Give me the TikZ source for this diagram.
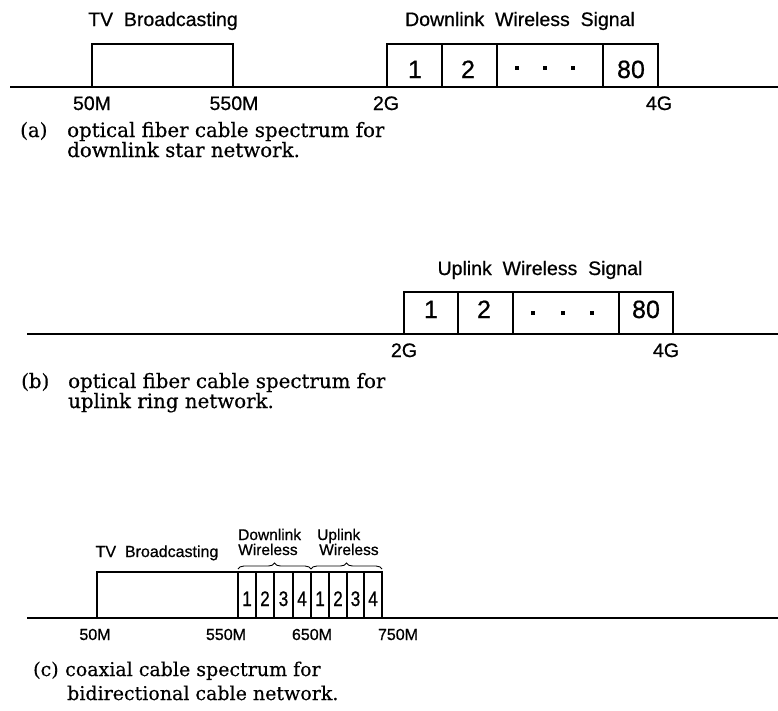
\documentclass[tikz,border=0pt]{standalone}
\usepackage{fontspec}
\usetikzlibrary{decorations.pathreplacing}
\newfontfamily\labfont[FakeBold=0.7]{Liberation Sans}
\newfontfamily\capfont[FakeBold=0.4]{DejaVu Serif}
\tikzset{
  axisline/.style={line width=1.5pt},
  band/.style={draw, line width=1.1pt},
  lblA/.style={font=\labfont\fontsize{19.5}{22}\selectfont, anchor=base, inner sep=0pt},
  lblC/.style={font=\labfont\fontsize{16}{18}\selectfont, anchor=base, inner sep=0pt},
  digA/.style={font=\labfont\fontsize{25}{28}\selectfont, anchor=base, inner sep=0pt},
  digC/.style={font=\labfont\fontsize{21}{24}\selectfont, anchor=base, inner sep=0pt},
  brlbl/.style={font=\labfont\fontsize{15.5}{16}\selectfont, anchor=base west, inner sep=0pt},
  captAB/.style={font=\capfont\fontsize{19.8}{20}\selectfont, anchor=base west, inner sep=0pt},
  captC/.style={font=\capfont\fontsize{19}{20}\selectfont, anchor=base west, inner sep=0pt},
  dotmark/.style={fill=black, inner sep=0pt, minimum size=3.2pt, rectangle}
}
\begin{document}
\begin{tikzpicture}[x=1pt,y=-1pt]
\useasboundingbox (0,0) rectangle (778,710);
% ---------------- (a) ----------------
\draw[axisline] (10,87) -- (778,87);
\draw[band] (92,87) -- (92,44) -- (233,44) -- (233,87);
\draw[band] (387,87) -- (387,44) -- (658,44) -- (658,87);
\draw[band] (442,44) -- (442,87);
\draw[band] (497,44) -- (497,87);
\draw[band] (603,44) -- (603,87);
\node[lblA] (atv) at (163,26) {TV\ \ Broadcasting};
\node[lblA] (adl) at (520,26) {Downlink\ \ Wireless\ \ Signal};
\node[digA] (a1) at (415,78) {1};
\node[digA] (a2) at (468,78) {2};
\node[dotmark] (ad1) at (517,68) {};
\node[dotmark] (ad2) at (545,68) {};
\node[dotmark] (ad3) at (573,68) {};
\node[digA] (a80) at (631,78) {80};
\node[lblA] (a50) at (92,110) {50M};
\node[lblA] (a550) at (234,110) {550M};
\node[lblA] (a2g) at (386,110) {2G};
\node[lblA] (a4g) at (659,110) {4G};
\node[captAB] (acap1) at (20,137) {(a)};
\node[captAB] (acap2) at (67,137) {optical fiber cable spectrum for};
\node[captAB] (acap3) at (67,157) {downlink star network.};
% ---------------- (b) ----------------
\draw[axisline] (27,334) -- (778,334);
\draw[band] (404,334) -- (404,292) -- (673,292) -- (673,334);
\draw[band] (458,292) -- (458,334);
\draw[band] (513,292) -- (513,334);
\draw[band] (619,292) -- (619,334);
\node[lblA] (bul) at (540,275) {Uplink\ \ Wireless\ \ Signal};
\node[digA] (b1) at (431,318) {1};
\node[digA] (b2) at (484,318) {2};
\node[dotmark] (bd1) at (533,313) {};
\node[dotmark] (bd2) at (563,313) {};
\node[dotmark] (bd3) at (592,313) {};
\node[digA] (b80) at (646,318) {80};
\node[lblA] (b2g) at (404,357) {2G};
\node[lblA] (b4g) at (666,357) {4G};
\node[captAB] (bcap1) at (21,388) {(b)};
\node[captAB] (bcap2) at (68,388) {optical fiber cable spectrum for};
\node[captAB] (bcap3) at (68,408) {uplink ring network.};
% ---------------- (c) ----------------
\draw[axisline] (27,618) -- (778,618);
\draw[band] (97,618) -- (97,572) -- (382,572) -- (382,618);
\foreach \xx in {238,256,274,293,311,329,347,364} {
  \draw[band] (\xx,572) -- (\xx,618);
}
\node[lblC] (ctv) at (157,557) {TV\ \ Broadcasting};
\node[brlbl] (cdl1) at (238,540) {Downlink};
\node[brlbl] (cdl2) at (238,555) {Wireless};
\node[brlbl] (cul1) at (317,540) {Uplink};
\node[brlbl] (cul2) at (319,555) {Wireless};
\coordinate (cb0) at (238,569);
\coordinate (cb1) at (311,569);
\coordinate (cb2) at (382,569);
\draw[line width=0.9pt, decorate, decoration={brace, amplitude=6pt}] (cb0) -- (cb1);
\draw[line width=0.9pt, decorate, decoration={brace, amplitude=6pt}] (cb1) -- (cb2);
\foreach \xx/\dd [count=\i] in {247/1,265/2,283.5/3,302/4,320/1,338/2,355.5/3,373/4} {
  \node[digC] (cd\i) at (\xx,606) {\scalebox{0.82}[1]{\dd}};
}
\node[lblC] (c50) at (95,640) {50M};
\node[lblC] (c550) at (226,640) {550M};
\node[lblC] (c650) at (312,640) {650M};
\node[lblC] (c750) at (398,640) {750M};
\node[captC] (ccap1) at (33,676) {(c)};
\node[captC] (ccap2) at (65,676) {coaxial cable spectrum for};
\node[captC] (ccap3) at (67,700) {bidirectional cable network.};
\end{tikzpicture}
\end{document}
